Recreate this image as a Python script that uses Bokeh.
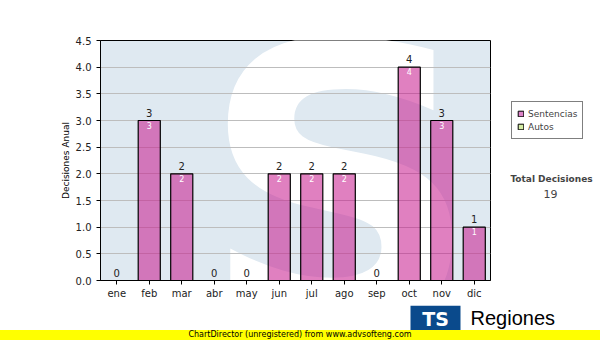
from bokeh.plotting import figure
from bokeh.models import (ColumnDataSource, Legend, LegendItem, Label, Div, Range1d,
                          SingleIntervalTicker, NumeralTickFormatter, FactorRange)
from bokeh.layouts import column, row
from bokeh.core.properties import value
from bokeh.embed import file_html
from bokeh.resources import INLINE

months = ["ene", "feb", "mar", "abr", "may", "jun", "jul", "ago", "sep", "oct", "nov", "dic"]
sentencias = [0, 3, 2, 0, 0, 2, 2, 2, 0, 4, 3, 1]
autos = [0] * 12
total = sum(sentencias)

FONT = "DejaVu Sans"
BAR = "#c81c8f"
PINK = "#dd82c8"
GREEN = "#d4eca4"

src = ColumnDataSource(dict(
    m=months,
    v=sentencias,
    lbl=[str(x) for x in sentencias],
    inner=[str(x) if x > 0 else "" for x in sentencias],
))

# ---------------- main chart ----------------
p = figure(x_range=FactorRange(*months), y_range=(0, 4.5),
           width=500, height=305, output_backend="svg", toolbar_location=None,
           min_border_left=100, min_border_right=10, min_border_top=40,
           min_border_bottom=25)
p.background_fill_color = "#dfe9f1"
p.border_fill_color = "white"
p.outline_line_color = "black"
p.outline_line_width = 1

# watermark letter of the logo
wm = ColumnDataSource(dict(x=["ago"], y=[1.69], t=["S"]))
p.text(x="x", y="y", text="t", source=wm, text_font=value(FONT),
       text_font_size="390px", text_font_style="bold", text_color="white",
       text_align="center", text_baseline="middle", x_offset=-4,
       level="underlay")

p.ygrid.grid_line_color = "#bdbdbd"
p.xgrid.grid_line_color = None

p.vbar(x="m", top="v", width=0.68, source=src, fill_color=BAR,
       fill_alpha=0.56, line_color="black", line_width=1.2)

p.text(x="m", y="v", text="lbl", source=src, text_font=value(FONT),
       text_font_size="10px", text_color="#222222", text_align="center",
       text_baseline="alphabetic", y_offset=-8)
p.text(x="m", y="v", text="inner", source=src, text_font=value(FONT),
       text_font_size="8px", text_color="white", text_align="center",
       text_baseline="top", y_offset=1)

p.yaxis.ticker = SingleIntervalTicker(interval=0.5)
p.yaxis.formatter = NumeralTickFormatter(format="0.0")
p.yaxis.axis_label = "Decisiones Anual"
p.yaxis.axis_label_text_font = FONT
p.yaxis.axis_label_text_font_size = "9px"
p.yaxis.axis_label_text_font_style = "normal"
p.yaxis.axis_label_text_color = "black"
p.yaxis.axis_label_standoff = 2
for ax in (p.xaxis, p.yaxis):
    ax.major_label_text_font = FONT
    ax.major_label_text_font_size = "10px"
    ax.major_label_text_color = "#222222"
    ax.axis_line_color = "black"
    ax.major_tick_line_color = "black"
    ax.minor_tick_line_color = None
    ax.major_tick_in = 0
    ax.major_tick_out = 4
p.xaxis.major_label_standoff = 3

# ---------------- right side: legend + total ----------------
side = figure(x_range=Range1d(500, 600), y_range=Range1d(305, 0),
              width=100, height=305, output_backend="svg", toolbar_location=None,
              min_border=0, x_axis_type=None, y_axis_type=None)
side.outline_line_color = None
side.grid.grid_line_color = None
side.background_fill_color = "white"
side.border_fill_color = "white"
# legend swatches (kept outside the visible range)
r_sent = side.quad(left=[0], right=[1], top=[0], bottom=[1], fill_color=PINK,
                   line_color="black")
r_auto = side.quad(left=[0], right=[1], top=[0], bottom=[1], fill_color=GREEN,
                   line_color="black")
legend = Legend(items=[LegendItem(label="Sentencias", renderers=[r_sent]),
                       LegendItem(label="Autos", renderers=[r_auto])],
                location=(11, 141), label_text_font=FONT,
                label_text_font_size="9px", glyph_width=7, glyph_height=7,
                label_height=13, spacing=0, padding=5, margin=0,
                border_line_color="black", border_line_width=1,
                background_fill_alpha=1, label_standoff=4)
side.add_layout(legend, "center")
side.add_layout(Label(x=551, y=176, text="Total Decisiones", text_font=FONT,
                      text_font_size="9px", text_font_style="bold",
                      text_align="center", text_baseline="middle"))
side.add_layout(Label(x=550, y=195, text=str(total), text_font=FONT,
                      text_font_size="11px", text_align="center",
                      text_baseline="middle"))

# ---------------- bottom: logo ----------------
bottom = figure(x_range=Range1d(0, 600), y_range=Range1d(330, 305),
                width=600, height=25, output_backend="svg", toolbar_location=None,
                min_border=0, x_axis_type=None, y_axis_type=None)
bottom.outline_line_color = None
bottom.grid.grid_line_color = None
bottom.background_fill_color = "white"
bottom.border_fill_color = "white"
bottom.quad(left=[410], right=[460], top=[305], bottom=[330],
            fill_color="#0a4a8c", line_color=None)
bottom.add_layout(Label(x=435, y=318, text="TS", text_font=FONT,
                        text_font_size="19px", text_font_style="bold",
                        text_color="white", text_align="center",
                        text_baseline="middle"))
bottom.add_layout(Label(x=470, y=317, text="Regiones", text_font="Liberation Sans",
                        text_font_size="20px", text_color="black",
                        text_baseline="middle"))

band = Div(text="ChartDirector (unregistered) from www.advsofteng.com",
           width=600, height=10, margin=0,
           styles={"background-color": "#ffff00", "font-family": FONT,
                   "font-size": "8px", "line-height": "10px",
                   "text-align": "center", "color": "black",
                   "width": "600px", "height": "10px", "overflow": "hidden"})

layout = column(row(p, side, spacing=0), bottom, band, spacing=0)
open("out.html", "w").write(file_html(layout, INLINE))
